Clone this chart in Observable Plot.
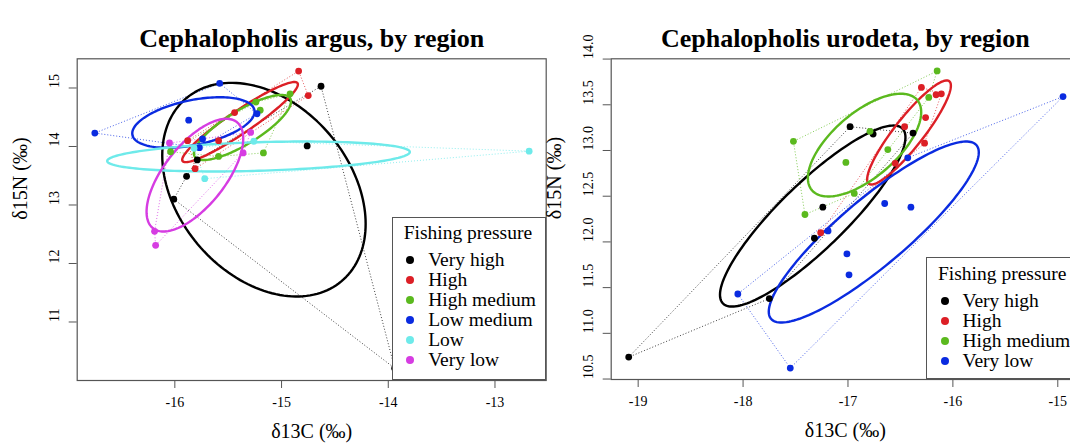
<!DOCTYPE html>
<html>
<head>
<meta charset="utf-8">
<script src="https://cdn.jsdelivr.net/npm/d3@7"></script>
<script src="https://cdn.jsdelivr.net/npm/@observablehq/plot@0.6"></script>
<style>
  html, body { margin: 0; padding: 0; background: #fff; overflow: hidden; }
  #wrap { position: relative; width: 1070px; height: 445px; overflow: hidden; font-family: "Liberation Serif", serif; }
  .panel { position: absolute; top: 0; width: 560px; height: 445px; }
  .panel svg { overflow: visible; }
  .legend { position: absolute; border: 1px solid #555; background: #fff; box-sizing: border-box; font-family: "Liberation Serif", serif; font-size: 19.5px; color: #000; }
  .legend .row { position: absolute; height: 20px; line-height: 20px; white-space: nowrap; }
  .legend .dot { position: absolute; width: 8px; height: 8px; border-radius: 50%; }
</style>
</head>
<body>
<div id="wrap"></div>
<script>
// ---------- Categories & colours ----------
const argusGroups = ["Very high", "High", "High medium", "Low medium", "Low", "Very low"];
const argusColors = ["#000000", "#DC1F26", "#5BB91E", "#0A2BE0", "#6EEAEA", "#D63CE2"];
const urodetaGroups = ["Very high", "High", "High medium", "Very low"];
const urodetaColors = ["#000000", "#DC1F26", "#5BB91E", "#0A2BE0"];

// ---------- Cephalopholis argus data ----------
const argusGroup = [
  "Very high","Very high","Very high","Very high","Very high","Very high",
  "High","High","High","High","High","High",
  "High medium","High medium","High medium","High medium","High medium","High medium",
  "Low medium","Low medium","Low medium","Low medium","Low medium","Low medium",
  "Low","Low","Low","Low",
  "Very low","Very low","Very low","Very low","Very low"
];
const argusD13C = [
  -14.63, -14.76, -13.94, -15.89, -16.01, -15.79,
  -14.84, -14.75, -15.44, -15.88, -15.59, -15.81,
  -14.92, -15.24, -15.20, -16.04, -15.59, -15.17,
  -16.75, -15.58, -15.87, -15.23, -15.74, -15.77,
  -12.68, -15.72, -15.26, -15.82,
  -16.19, -16.18, -16.05, -15.36, -15.29
];
const argusD15N = [
  15.03, 14.01, 10.21, 13.49, 13.10, 13.77,
  15.29, 14.87, 14.58, 14.10, 14.10, 13.62,
  14.90, 14.76, 14.62, 13.91, 13.83, 13.89,
  14.23, 15.08, 14.45, 14.56, 14.13, 13.98,
  13.92, 13.45, 14.09, 13.97,
  12.55, 12.31, 14.06, 13.89, 14.24
];
// ellipse: centre C, centre N, half-width C, half-height N, correlation
const argusEllipseC  = [-15.165, -15.389, -15.366, -15.826, -15.216, -15.812];
const argusEllipseN  = [13.262, 14.417, 14.325, 14.410, 13.829, 13.510];
const argusEllipseHC = [0.953, 0.542, 0.455, 0.573, 1.418, 0.453];
const argusEllipseHN = [1.826, 0.685, 0.556, 0.432, 0.256, 0.963];
const argusEllipseR  = [-0.32, 0.94, 0.80, 0.43, 0.30, 0.65];

// ---------- Cephalopholis urodeta data ----------
const urodetaGroup = [
  "Very high","Very high","Very high","Very high","Very high","Very high","Very high",
  "High","High","High","High","High","High","High","High",
  "High medium","High medium","High medium","High medium","High medium","High medium","High medium","High medium",
  "Very low","Very low","Very low","Very low","Very low","Very low","Very low","Very low","Very low"
];
const urodetaD13C = [
  -19.09, -17.75, -17.32, -17.24, -16.98, -16.76, -16.38,
  -16.30, -16.16, -16.11, -16.26, -16.27, -16.46, -16.55, -17.26,
  -16.15, -16.23, -16.62, -16.79, -17.52, -17.02, -16.94, -17.41,
  -14.95, -16.43, -16.65, -16.40, -17.01, -16.99, -17.19, -18.05, -17.55
];
const urodetaD15N = [
  10.74, 11.38, 12.04, 12.38, 13.26, 13.18, 13.19,
  13.69, 13.61, 13.62, 13.36, 13.08, 13.26, 12.86, 12.10,
  13.87, 13.58, 13.01, 13.21, 13.10, 12.87, 12.53, 12.30,
  13.59, 12.92, 12.42, 12.38, 11.87, 11.64, 12.12, 11.43, 10.62
];
const urodetaEllipseC  = [-17.336, -16.418, -16.842, -16.754];
const urodetaEllipseN  = [12.283, 13.197, 13.059, 12.108];
const urodetaEllipseHC = [0.884, 0.399, 0.540, 1.001];
const urodetaEllipseHN = [0.990, 0.569, 0.562, 0.990];
const urodetaEllipseR  = [0.87, 0.90, 0.64, 0.88];

// ---------- Axis ticks ----------
const argusXTicks = [-16, -15, -14, -13];
const argusYTicks = [11, 12, 13, 14, 15];
const urodetaXTicks = [-19, -18, -17, -16, -15];
const urodetaYTicks = [10.5, 11.0, 11.5, 12.0, 12.5, 13.0, 13.5, 14.0];

const FONT = "Liberation Serif";

function table(groups, cs, ns) {
  return groups.map((g, i) => ({g, c: cs[i], n: ns[i]}));
}
function ellipses(groups, C, N, HC, HN, R) {
  const out = [];
  groups.forEach((g, i) => {
    const s = Math.sqrt(1 - R[i] * R[i]);
    for (let k = 0; k <= 160; k++) {
      const t = 2 * Math.PI * k / 160;
      out.push({g, c: C[i] + HC[i] * Math.cos(t), n: N[i] + HN[i] * (R[i] * Math.cos(t) + s * Math.sin(t))});
    }
  });
  return out;
}

function panel(opts) {
  const pts = table(opts.group, opts.c, opts.n);
  const ell = ellipses(opts.groups, opts.eC, opts.eN, opts.eHC, opts.eHN, opts.eR);
  return Plot.plot({
    width: 560, height: 445,
    marginLeft: opts.ml, marginRight: opts.mr, marginTop: 58.3, marginBottom: opts.mb,
    style: {fontFamily: FONT, background: "transparent", color: "#555", overflow: "visible"},
    x: {domain: opts.xd, ticks: opts.xt, tickSize: 8, tickFormat: () => "", label: null},
    y: {domain: opts.yd, ticks: opts.yt, tickSize: 8, tickFormat: () => "", label: null},
    color: {domain: opts.groups, range: opts.colors},
    marks: [
      Plot.frame({stroke: "#555", strokeWidth: 1.2}),
      Plot.hull(pts, {x: "c", y: "n", z: "g", stroke: "g", strokeWidth: 1, strokeDasharray: "1,2", strokeOpacity: 0.75}),
      Plot.line(ell, {x: "c", y: "n", z: "g", stroke: "g", strokeWidth: 2.4}),
      Plot.dot(pts, {x: "c", y: "n", fill: "g", r: 3.4}),
      Plot.text(opts.xt, {x: d => d, text: d => String(d), frameAnchor: "bottom", dy: 26, fontSize: 14, fill: "#000"}),
      Plot.text(opts.yt, {y: d => d, text: opts.yfmt, frameAnchor: "left", dx: -23, rotate: -90, fontSize: 14, fill: "#000"}),
      Plot.text([opts.title], {frameAnchor: "top", dy: -30, fontSize: 26, fontWeight: "bold", fill: "#000"}),
      Plot.text(["δ13C (‰)"], {frameAnchor: "bottom", dy: 57, fontSize: 20, fill: "#000"}),
      Plot.text(["δ15N (‰)"], {frameAnchor: "left", dx: -57, rotate: -90, fontSize: 20, fill: "#000"})
    ]
  });
}

function legend(parent, left, top, width, height, groups, colors) {
  const box = document.createElement("div");
  box.className = "legend";
  Object.assign(box.style, {left: left + "px", top: top + "px", width: width + "px", height: height + "px"});
  const t = document.createElement("div");
  t.className = "row";
  t.textContent = "Fishing pressure";
  Object.assign(t.style, {left: "11px", top: (15.5 - 10) + "px"});
  box.appendChild(t);
  groups.forEach((g, i) => {
    const cy = 42.5 + 20 * i;
    const d = document.createElement("div");
    d.className = "dot";
    Object.assign(d.style, {left: (17.5 - 4) + "px", top: (cy - 4) + "px", background: colors[i]});
    box.appendChild(d);
    const r = document.createElement("div");
    r.className = "row";
    r.textContent = g;
    Object.assign(r.style, {left: "35.5px", top: (cy - 10) + "px"});
    box.appendChild(r);
  });
  parent.appendChild(box);
}

const wrap = document.getElementById("wrap");

const leftDiv = document.createElement("div");
leftDiv.className = "panel";
leftDiv.style.left = "0px";
leftDiv.appendChild(panel({
  group: argusGroup, c: argusD13C, n: argusD15N,
  groups: argusGroups, colors: argusColors,
  eC: argusEllipseC, eN: argusEllipseN, eHC: argusEllipseHC, eHN: argusEllipseHN, eR: argusEllipseR,
  xd: [-16.915, -12.52], yd: [10.0, 15.499], xt: argusXTicks, yt: argusYTicks,
  yfmt: d => String(d),
  ml: 76.7, mr: 560 - 545.7, mb: 445 - 380,
  title: "Cephalopholis argus, by region"
}));
wrap.appendChild(leftDiv);

const rightDiv = document.createElement("div");
rightDiv.className = "panel";
rightDiv.style.left = "548px";
rightDiv.appendChild(panel({
  group: urodetaGroup, c: urodetaD13C, n: urodetaD15N,
  groups: urodetaGroups, colors: urodetaColors,
  eC: urodetaEllipseC, eN: urodetaEllipseN, eHC: urodetaEllipseHC, eHN: urodetaEllipseHN, eR: urodetaEllipseR,
  xd: [-19.257, -14.793], yd: [10.495, 14.003], xt: urodetaXTicks, yt: urodetaYTicks,
  yfmt: d => d.toFixed(1),
  ml: 610.7 - 548, mr: 548 + 560 - 1079, mb: 445 - 379,
  title: "Cephalopholis urodeta, by region"
}));
wrap.appendChild(rightDiv);

legend(wrap, 391.7, 216.7, 154.5, 163.8, argusGroups, argusColors);
legend(wrap, 926, 257.3, 200, 122.2, urodetaGroups, urodetaColors);
</script>
</body>
</html>
